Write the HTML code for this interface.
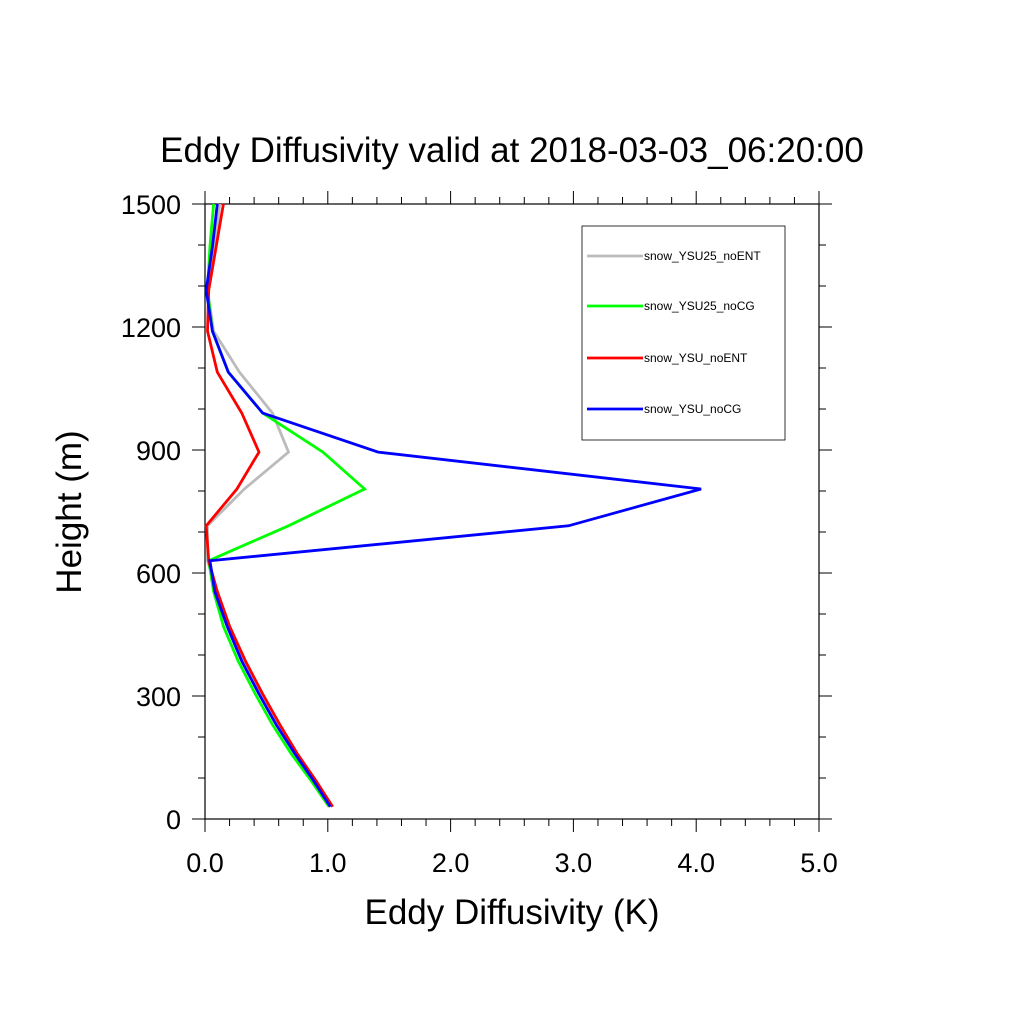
<!DOCTYPE html>
<html><head><meta charset="utf-8"><style>body{margin:0;background:#fff}svg{display:block}</style></head>
<body>
<svg id="chart" width="1024" height="1024" xmlns="http://www.w3.org/2000/svg" font-family="Liberation Sans, sans-serif">
<rect width="1024" height="1024" fill="#fff"/>
<text x="512" y="162" font-size="35" text-anchor="middle">Eddy Diffusivity valid at 2018-03-03_06:20:00</text>
<text x="512" y="924" font-size="35" text-anchor="middle">Eddy Diffusivity (K)</text>
<text transform="translate(81,512) rotate(-90)" font-size="35" text-anchor="middle">Height (m)</text>
<g id="axes"></g>
<g id="series"></g>
<g id="legend"></g>
</svg>
<script>
const heights = [30,95,160,230,305,385,470,555,630,715,805,895,990,1090,1190,1290,1395,1500];
const seriesNames = ["snow_YSU25_noENT","snow_YSU25_noCG","snow_YSU_noENT","snow_YSU_noCG"];
const seriesColors = ["#bbbbbb","#00ff00","#ff0000","#0000ff"];
const grayVals  = [1.02,0.88,0.74,0.60,0.46,0.32,0.20,0.10,0.02,0.02,0.32,0.68,0.55,0.28,0.07,0.02,0.08,0.12];
const greenVals = [1.01,0.86,0.70,0.55,0.41,0.27,0.15,0.07,0.03,0.68,1.30,0.96,0.47,0.19,0.06,0.02,0.04,0.07];
const redVals   = [1.04,0.90,0.75,0.61,0.47,0.33,0.20,0.10,0.03,0.01,0.26,0.44,0.30,0.10,0.02,0.03,0.09,0.15];
const blueVals  = [1.02,0.88,0.73,0.58,0.44,0.30,0.18,0.08,0.04,2.96,4.04,1.41,0.47,0.19,0.06,0.01,0.06,0.10];
const xTicks = [0,1,2,3,4,5];
const xTickLabels = ["0.0","1.0","2.0","3.0","4.0","5.0"];
const yTicks = [0,300,600,900,1200,1500];
const yTickLabels = ["0","300","600","900","1200","1500"];

const X0=205,X1=819,Y0=819,Y1=204;
const xs=v=>X0+(v/5)*(X1-X0);
const ys=v=>Y0-(v/1500)*(Y0-Y1);
const NS="http://www.w3.org/2000/svg";
function mk(tag,attrs,parent){const e=document.createElementNS(NS,tag);for(const k in attrs)e.setAttribute(k,attrs[k]);parent.appendChild(e);return e;}
const axes=document.getElementById('axes');
const frame=mk('rect',{x:X0,y:Y1,width:X1-X0,height:Y0-Y1,fill:'none',stroke:'#000','stroke-width':1.2},axes);


for(let v=0;v<=5.0001;v+=0.2){
  const major=Math.abs(v-Math.round(v))<1e-6;const L=major?13:7;const x=xs(v);
  const t1=mk('line',{x1:x,x2:x,y1:Y0,y2:Y0+L,stroke:'#000','stroke-width':1},axes);
  
  
  const t2=mk('line',{x1:x,x2:x,y1:Y1,y2:Y1-L,stroke:'#000','stroke-width':1},axes);
  
  
}
for(let v=0;v<=1500;v+=100){
  const major=v%300===0;const L=major?13:7;const y=ys(v);
  const t1=mk('line',{x1:X0,x2:X0-L,y1:y,y2:y,stroke:'#000','stroke-width':1},axes);
  
  
  const t2=mk('line',{x1:X1,x2:X1+L,y1:y,y2:y,stroke:'#000','stroke-width':1},axes);
  
  
}
xTicks.forEach((v,i)=>{const t=mk('text',{x:xs(v),y:872,'font-size':27,'text-anchor':'middle'},axes);t.textContent=xTickLabels[i];
  
  });
yTicks.forEach((v,i)=>{const t=mk('text',{x:181,y:ys(v)+10,'font-size':27,'text-anchor':'end'},axes);t.textContent=yTickLabels[i];
  
  });
const g=document.getElementById('series');
[grayVals,greenVals,redVals,blueVals].forEach((vals,i)=>{
  const pts=vals.map((v,j)=>xs(v).toFixed(1)+','+ys(heights[j]).toFixed(1)).join(' ');
  const p=mk('polyline',{points:pts,fill:'none',stroke:seriesColors[i],'stroke-width':2.8,'stroke-linejoin':'miter'},g);
  
  
});
const lg=document.getElementById('legend');
const box=mk('rect',{x:582,y:226,width:203,height:214,fill:'#fff',stroke:'#000','stroke-width':0.8},lg);


const ly=[256,306,358,409];
seriesNames.forEach((n,i)=>{
  const l=mk('line',{x1:587,x2:643,y1:ly[i],y2:ly[i],stroke:seriesColors[i],'stroke-width':2.8},lg);
  
  
  const t=mk('text',{x:644,y:ly[i]+4,'font-size':12},lg);t.textContent=n;
  
  
});
</script>
</body></html>
